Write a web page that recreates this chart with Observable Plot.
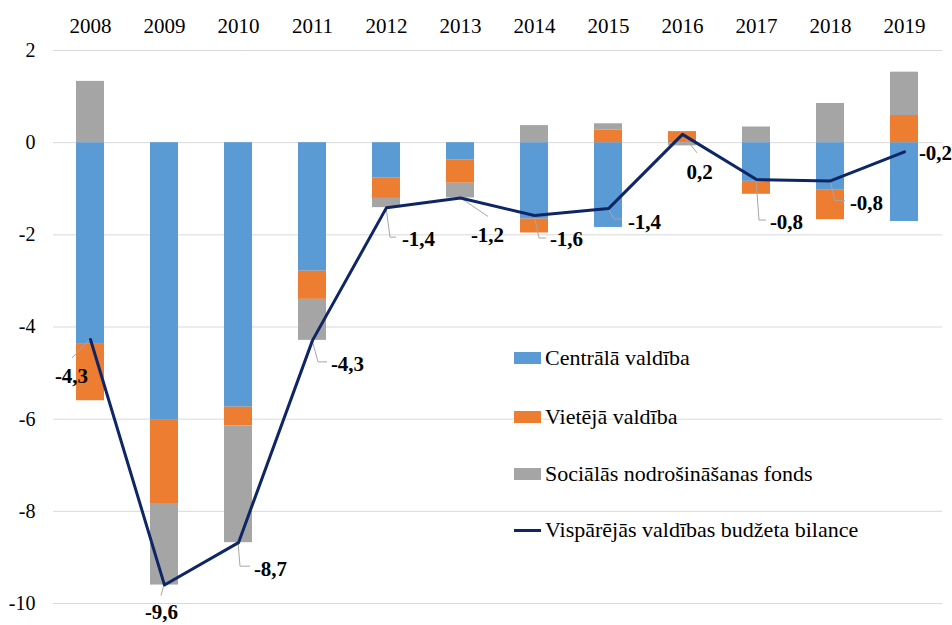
<!DOCTYPE html>
<html>
<head>
<meta charset="utf-8">
<script src="https://cdn.jsdelivr.net/npm/d3@7"></script>
<script src="https://cdn.jsdelivr.net/npm/@observablehq/plot@0.6"></script>
<style>
  html, body { margin: 0; padding: 0; background: #fff; }
  #wrap { position: relative; width: 952px; height: 625px; }
  #legend { position: absolute; left: 514px; top: 0; font-family: 'Liberation Serif', 'Times New Roman', serif; font-size: 22px; color: #000; }
  .item { position: absolute; left: 0; white-space: nowrap; display: flex; align-items: center; transform: translateY(-50%); }
  .sw { width: 27px; height: 12px; margin-right: 4px; }
  .sw.line { height: 3px; }
  svg g[aria-label^="x-axis"] text { font-size: 21px; }
</style>
</head>
<body>
<div id="wrap"><div id="legend"></div></div>
<script>
// ---- data ----
const years = ["2008","2009","2010","2011","2012","2013","2014","2015","2016","2017","2018","2019"];
const central = [-4.36, -6.01, -5.74, -2.79, -0.77, -0.38, -1.66, -1.84, 0.0, -0.84, -1.02, -1.71];
const local   = [-1.24, -1.82, -0.41, -0.61, -0.44, -0.50, -0.30, 0.27, 0.24, -0.28, -0.65, 0.59];
const social  = [1.33, -1.77, -2.53, -0.89, -0.20, -0.32, 0.37, 0.14, -0.07, 0.34, 0.85, 0.94];
const balance = [-4.27, -9.60, -8.68, -4.29, -1.41, -1.20, -1.58, -1.43, 0.18, -0.80, -0.83, -0.20];
const balanceLabels = [-4.3, -9.6, -8.7, -4.3, -1.4, -1.2, -1.6, -1.4, 0.2, -0.8, -0.8, -0.2];
const seriesNames = ["Centrālā valdība", "Vietējā valdība", "Sociālās nodrošināšanas fonds"];
const lineName = "Vispārējās valdības budžeta bilance";
const yTicks = [-10, -8, -6, -4, -2, 0, 2];

// ---- layout / style (pixel offsets of data labels and leader lines) ----
const colors = ["#5B9BD5", "#ED7D31", "#A5A5A5"];
const lineColor = "#0E2566";
const labelLayout = [
  {dx: -19, dy: 37, leader: [[-18, 19]]},
  {dx: -3, dy: 27, leader: [[-3, 11]]},
  {dx: 32, dy: 27, leader: [[2, 24], [12, 24]]},
  {dx: 35, dy: 24, leader: [[6, 22], [15, 22]]},
  {dx: 32, dy: 32, leader: [[4, 30], [10, 30]]},
  {dx: 27, dy: 37, leader: [[28, 19]]},
  {dx: 32, dy: 24, leader: [[5, 23], [12, 23]]},
  {dx: 36, dy: 14, leader: [[6, 11], [14, 11]]},
  {dx: 17, dy: 38, leader: [[15, 19]]},
  {dx: 30, dy: 43, leader: [[3, 41], [10, 41]]},
  {dx: 36, dy: 22, leader: [[5, 20], [15, 20]]},
  {dx: 31, dy: 1, leader: null}
];

// ---- build tables ----
const seriesArrays = [central, local, social];
const barData = [];
years.forEach((yr, i) => seriesNames.forEach((s, j) => barData.push({year: yr, series: s, value: seriesArrays[j][i]})));
const lineData = years.map((yr, i) => ({year: yr, value: balance[i], label: balanceLabels[i].toFixed(1).replace(".", ",")}));

function leaders(index, scales) {
  const x = scales.x, y = scales.y;
  const bw = x.bandwidth ? x.bandwidth() : 0;
  const g = d3.create("svg:g");
  lineData.forEach((d, i) => {
    const L = labelLayout[i];
    if (!L.leader) return;
    const px = x(d.year) + bw / 2, py = y(d.value);
    const pts = [[px, py], ...L.leader.map(([a, b]) => [px + a, py + b])];
    g.append("path").attr("d", d3.line()(pts)).attr("fill", "none")
      .attr("stroke", "#A6A6A6").attr("stroke-width", 1);
  });
  return g.node();
}

const labelMarks = lineData.map((d, i) => Plot.text([d], {
  x: "year", y: "value", text: "label",
  dx: labelLayout[i].dx, dy: labelLayout[i].dy,
  fontWeight: "bold", fontSize: 21, fill: "#000"
}));

const chart = Plot.plot({
  width: 952, height: 625,
  marginTop: 50, marginBottom: 22, marginLeft: 53, marginRight: 10,
  style: {fontFamily: "'Liberation Serif', 'Times New Roman', serif", fontSize: "20px", color: "#000", background: "transparent"},
  x: {type: "band", domain: years, paddingInner: 0.62, paddingOuter: 0.31, axis: "top", tickSize: 0, tickPadding: 18, label: null},
  y: {domain: [-10, 2], ticks: yTicks, tickSize: 0, tickPadding: 18, label: null, tickFormat: d => String(d)},
  color: {domain: seriesNames, range: colors},
  marks: [
    Plot.ruleY(yTicks, {stroke: "#D9D9D9", strokeWidth: 1}),
    Plot.barY(barData, {x: "year", y: "value", fill: "series", order: seriesNames}),
    leaders,
    Plot.line(lineData, {x: "year", y: "value", stroke: lineColor, strokeWidth: 3}),
    ...labelMarks
  ]
});
document.getElementById("wrap").prepend(chart);

// ---- legend (HTML overlay inside plot area) ----
const legend = document.getElementById("legend");
const legendItems = [
  {name: seriesNames[0], color: colors[0], line: false, top: 358},
  {name: seriesNames[1], color: colors[1], line: false, top: 417},
  {name: seriesNames[2], color: colors[2], line: false, top: 474},
  {name: lineName, color: lineColor, line: true, top: 530}
];
legendItems.forEach(it => {
  const el = document.createElement("div");
  el.className = "item";
  el.style.top = it.top + "px";
  const sw = document.createElement("span");
  sw.className = "sw" + (it.line ? " line" : "");
  sw.style.background = it.color;
  const tx = document.createElement("span");
  tx.textContent = it.name;
  el.appendChild(sw); el.appendChild(tx);
  legend.appendChild(el);
});
</script>
</body>
</html>
